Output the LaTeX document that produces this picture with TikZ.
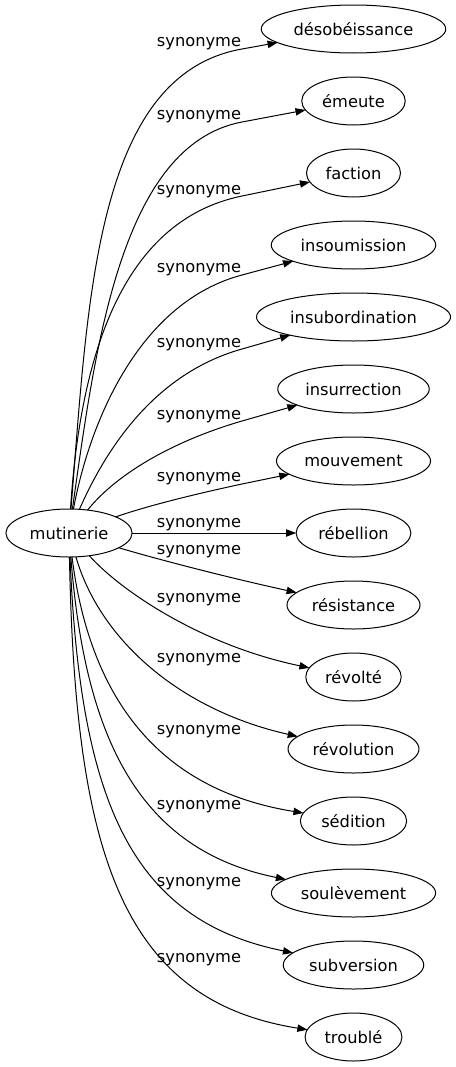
\documentclass[tikz,border=0pt]{standalone}
\usepackage{fontspec}
\setmainfont{DejaVu Sans}
\usetikzlibrary{shapes.geometric,arrows.meta}
\begin{document}
\begin{tikzpicture}[x=0.75pt,y=-0.75pt,
  word/.style={ellipse,draw,line width=0.75pt,minimum height=36pt,inner xsep=4pt,inner ysep=2pt,outer sep=0pt,font=\fontsize{12.2}{14}\selectfont},
  lab/.style={anchor=base,inner sep=0pt,font=\fontsize{12.2}{14}\selectfont},
  edge/.style={line width=0.75pt,-{Triangle[length=7.5pt,width=5.5pt]}}]
\useasboundingbox (0,0) rectangle (455,1067);
\node[word] (m) at (69,533) {mutinerie};
\node[word] (t0) at (353.5,29) {désobéissance};
\node[word] (t1) at (353.5,101) {émeute};
\node[word] (t2) at (353.5,173) {faction};
\node[word] (t3) at (353.5,245) {insoumission};
\node[word] (t4) at (353.5,317) {insubordination};
\node[word] (t5) at (353.5,389) {insurrection};
\node[word] (t6) at (353.5,461) {mouvement};
\node[word] (t7) at (353.5,533) {rébellion};
\node[word] (t8) at (353.5,605) {résistance};
\node[word] (t9) at (353.5,677) {révolté};
\node[word] (t10) at (353.5,749) {révolution};
\node[word] (t11) at (353.5,821) {sédition};
\node[word] (t12) at (353.5,893) {soulèvement};
\node[word] (t13) at (353.5,965) {subversion};
\node[word] (t14) at (353.5,1037) {troublé};
% labels
\node[lab] (l0) at (199,46.5) {synonyme};
\node[lab] (l1) at (199,119.5) {synonyme};
\node[lab] (l2) at (199,194) {synonyme};
\node[lab] (l3) at (199,272.5) {synonyme};
\node[lab] (l4) at (199,347) {synonyme};
\node[lab] (l5) at (199,419) {synonyme};
\node[lab] (l6) at (199,481) {synonyme};
\node[lab] (l7) at (199,527) {synonyme};
\node[lab] (l8) at (199,554.5) {synonyme};
\node[lab] (l9) at (199,602) {synonyme};
\node[lab] (l10) at (199,662.5) {synonyme};
\node[lab] (l11) at (199,734.5) {synonyme};
\node[lab] (l12) at (199,809) {synonyme};
\node[lab] (l13) at (199,886.5) {synonyme};
\node[lab] (l14) at (199,962.5) {synonyme};
% via points
\coordinate (v0) at (242,49);
\coordinate (v1) at (242,122);
\coordinate (v2) at (242,196);
\coordinate (v3) at (242,275);
\coordinate (v4) at (242,349);
\coordinate (v5) at (242,421);
\coordinate (v6) at (242,484);
% edges
\draw[edge] (m) .. controls (88,300) and (95,75) .. (v0) -- (t0);
\draw[edge] (m) .. controls (95,350) and (120,145) .. (v1) -- (t1);
\draw[edge] (m) .. controls (80,360) and (120,221) .. (v2) -- (t2);
\draw[edge] (m) .. controls (90,420) and (140,302) .. (v3) -- (t3);
\draw[edge] (m) .. controls (110,440) and (160,372) .. (v4) -- (t4);
\draw[edge] (m) .. controls (120,470) and (180,439) .. (v5) -- (t5);
\draw[edge] (m) .. controls (150,505) and (200,493) .. (v6) -- (t6);
\draw[edge] (m) -- (t7);
\draw[edge] (m) .. controls (160,560) and (230,578) .. (t8);
\draw[edge] (m) .. controls (120,590) and (200,645) .. (t9);
\draw[edge] (m) .. controls (100,640) and (180,710) .. (t10);
\draw[edge] (m) .. controls (90,700) and (160,790) .. (t11);
\draw[edge] (m) .. controls (85,740) and (140,850) .. (t12);
\draw[edge] (m) .. controls (80,800) and (130,920) .. (t13);
\draw[edge] (m) .. controls (75,850) and (120,1000) .. (t14);
\end{tikzpicture}
\end{document}
